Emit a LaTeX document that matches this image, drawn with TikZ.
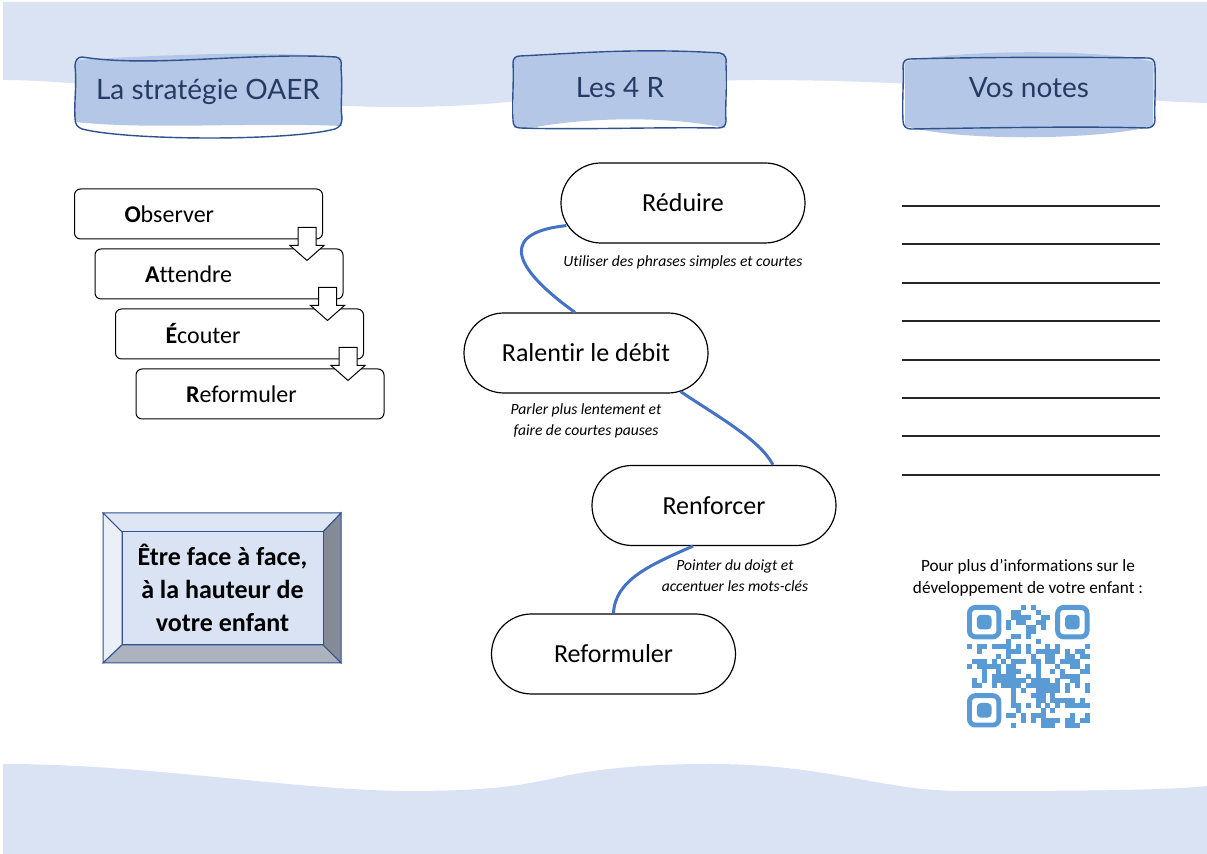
\documentclass[tikz,border=0pt]{standalone}
\usepackage{fontspec}
\setmainfont{Carlito}[Ligatures={NoCommon}]
\newfontfamily\titlefont{Lato}[Ligatures={NoCommon}]
\usetikzlibrary{positioning, calc}

\definecolor{BandColor}{RGB}{218,227,243}
\definecolor{TitleFill}{RGB}{180,199,231}
\definecolor{TitleBorder}{RGB}{47,82,143}
\definecolor{TitleText}{RGB}{38,58,99}
\definecolor{LinkColor}{RGB}{68,114,196}
\definecolor{QRColor}{RGB}{91,155,213}
\definecolor{BevelLight}{RGB}{234,239,248}
\definecolor{BevelTop}{RGB}{222,230,244}
\definecolor{BevelRight}{RGB}{132,139,151}
\definecolor{BevelBottom}{RGB}{172,178,190}

\tikzstyle{titlebox} = [draw=TitleBorder, line width=0.7pt, line join=round]
\tikzstyle{bevel} = [draw=TitleBorder, line width=0.5pt]
\tikzset{
  titletext/.style={font=\titlefont\fontsize{14}{16}\selectfont, text=TitleText},
  oaer/.style={draw, rounded corners=3pt, fill=white, line width=0.5pt, minimum width=124pt, minimum height=25pt, text width=74pt, align=left, inner sep=0pt, font=\fontsize{12}{14}\selectfont},
  stepR/.style={draw, rounded corners=20pt, fill=white, line width=0.6pt, minimum width=122pt, minimum height=40pt, font=\fontsize{13}{15}\selectfont},
  desc/.style={font=\itshape\fontsize{7.8}{10.5}\selectfont, align=center, inner sep=0pt},
  faceface/.style={font=\bfseries\fontsize{13}{16.5}\selectfont, align=center},
  info/.style={font=\fontsize{8.6}{11}\selectfont, align=center},
  link/.style={LinkColor, line width=1.5pt},
  noteline/.style={line width=0.75pt, black!85},
  qr/.style={fill=QRColor},
  pics/downarrow/.style={code={
    \draw[fill=white, line width=0.5pt] (-4.5pt,0) -- (4.5pt,0) -- (4.5pt,-9pt) -- (8.5pt,-9pt) -- (0,-16.5pt) -- (-8.5pt,-9pt) -- (-4.5pt,-9pt) -- cycle;}}
}

\begin{document}
\begin{tikzpicture}[x=0.5pt, y=-0.5pt]
  \path[use as bounding box, fill=white] (0,0) rectangle (1207,854);

  % Bands
  \fill[BandColor] (3,2) -- (1207,2) -- (1207,103) .. controls (1100,100) and (950,80) .. (760,80)
    .. controls (620,80) and (550,107) .. (400,107) .. controls (250,107) and (100,80) .. (3,80) -- cycle;
  \fill[BandColor] (3,764) .. controls (150,764) and (300,791) .. (410,791) .. controls (480,791) and (515,787) .. (555,778)
    .. controls (600,768) and (650,764) .. (710,764) .. controls (830,764) and (880,791) .. (962,791)
    .. controls (1100,791) and (1170,790) .. (1207,786) -- (1207,854) -- (3,854) -- cycle;

  % Title boxes
  \fill[TitleFill] (76,60) .. controls (150,56) and (250,50) .. (341,57) -- (342,126)
    .. controls (250,122) and (150,130) .. (75,122) -- cycle;
  \draw[titlebox] (82,57) .. controls (150,68) and (250,52) .. (336,57) .. controls (341,58) and (342,62) .. (341,68)
    .. controls (343,90) and (340,105) .. (342,118) .. controls (342,124) and (340,127) .. (335,129)
    .. controls (290,141) and (130,141) .. (82,129) .. controls (77,127) and (75,124) .. (75,118)
    .. controls (74,100) and (77,85) .. (75,66) .. controls (75,60) and (78,57) .. cycle;
  \node[titletext] (t1) at (208,92) {La stratégie OAER};

  \fill[TitleFill] (514,57) .. controls (600,52) and (660,50) .. (725,54) -- (725,128)
    .. controls (680,118) and (600,115) .. (530,128) -- (514,128) -- cycle;
  \draw[titlebox] (520,56) .. controls (580,53) and (640,48) .. (720,53) .. controls (725,54) and (727,58) .. (726,64)
    .. controls (727,90) and (725,110) .. (726,121) .. controls (726,126) and (723,128) .. (718,128)
    .. controls (650,127) and (580,130) .. (520,128) .. controls (515,128) and (513,125) .. (513,120)
    .. controls (512,100) and (514,80) .. (513,63) .. controls (513,58) and (516,56) .. cycle;
  \node[titletext] (t2) at (620,88) {Les 4 R};

  \fill[TitleFill] (905,62) .. controls (950,50) and (1100,48) .. (1153,62) -- (1153,126)
    .. controls (1100,140) and (960,142) .. (905,126) -- cycle;
  \draw[titlebox] (910,59) .. controls (980,57) and (1080,57) .. (1148,58) .. controls (1153,58) and (1155,61) .. (1155,66)
    .. controls (1156,90) and (1154,110) .. (1155,120) .. controls (1155,125) and (1152,128) .. (1147,128)
    .. controls (1080,126) and (980,128) .. (911,129) .. controls (906,129) and (903,126) .. (903,121)
    .. controls (902,100) and (904,80) .. (903,66) .. controls (903,61) and (906,59) .. cycle;
  \node[titletext] (t3) at (1029,88) {Vos notes};

  % OAER steps
  \node[oaer] (obs) at (198.5,214) {\textbf{O}bserver};
  \node[oaer] (att) at ([shift={(10.25pt,-30pt)}]obs) {\textbf{A}ttendre};
  \node[oaer] (eco) at ([shift={(10.25pt,-30pt)}]att) {\textbf{É}couter};
  \node[oaer] (refo) at ([shift={(10.25pt,-30pt)}]eco) {\textbf{R}eformuler};
  \pic at ([shift={(-8pt,6pt)}]obs.south east) {downarrow};
  \pic at ([shift={(-8pt,6pt)}]att.south east) {downarrow};
  \pic at ([shift={(-8pt,6pt)}]eco.south east) {downarrow};

  % Bevel box
  \filldraw[bevel, fill=BevelTop] (103,513) -- (341,513) -- (323,532) -- (122,532) -- cycle;
  \filldraw[bevel, fill=BevelLight] (103,513) -- (122,532) -- (122,645) -- (103,663) -- cycle;
  \filldraw[bevel, fill=BevelRight] (341,513) -- (341,663) -- (323,645) -- (323,532) -- cycle;
  \filldraw[bevel, fill=BevelBottom] (103,663) -- (341,663) -- (323,645) -- (122,645) -- cycle;
  \filldraw[bevel, fill=BandColor] (122,532) rectangle (323,645);
  \node[faceface] (face) at (222.5,588) {Être face à face,\\à la hauteur de\\votre enfant};

  % The 4 R
  \node[stepR] (red) at (683,203) {Réduire};
  \node[stepR] (ral) at (586,353) {Ralentir le débit};
  \node[stepR] (ren) at (714,505.5) {Renforcer};
  \node[stepR] (ref) at (613.5,654) {Reformuler};

  \draw[link] ([shift={(3pt,9pt)}]red.south west) .. controls (505,232) and (505,262) .. ([xshift=-5.5pt]ral.north);
  \draw[link] ([shift={(-14pt,1pt)}]ral.south east) .. controls (720,418) and (760,440) .. ([xshift=29.5pt]ren.north);
  \draw[link] ([xshift=-10.5pt]ren.south) .. controls (650,565) and (615,580) .. (ref.north);

  \node[desc] (d1) at ([yshift=-9.5pt]red.south) {Utiliser des phrases simples et courtes};
  \node[desc] (d2) at ([yshift=-13.75pt]ral.south) {Parler plus lentement et\\faire de courtes pauses};
  \node[desc] (d3) at ([shift={(10.5pt,-14.75pt)}]ren.south) {Pointer du doigt et\\accentuer les mots-clés};

  % Notes
  \foreach \y in {206,244,283,321,360,398,436,475}
    \draw[noteline] (902,\y) -- (1160,\y);

  \node[info] (more) at (1028,578) {Pour plus d’informations sur le\\développement de votre enfant :};

  % QR code
  \foreach \i in {0,...,24}
    \foreach \j in {0,...,24}{
      \pgfmathtruncatemacro{\on}{((\i<8 && \j<8) || (\i>16 && \j<8) || (\i<8 && \j>16)) ? 0 : mod(int(abs(sin(\i*127.1+\j*311.7+7)*4375.85)),2)}
      \ifnum\on=1 \fill[qr] (967+4.9*\i,605+4.9*\j) rectangle ++(5,5); \fi
    }
  \foreach \fx/\fy in {967/605, 1055.2/605, 967/693.2}{
    \draw[QRColor, line width=2.45pt, rounded corners=3pt] (\fx+2.45,\fy+2.45) rectangle ++(29.4,29.4);
    \fill[qr, rounded corners=2pt] (\fx+9.8,\fy+9.8) rectangle ++(14.7,14.7);
  }
\end{tikzpicture}
\end{document}
